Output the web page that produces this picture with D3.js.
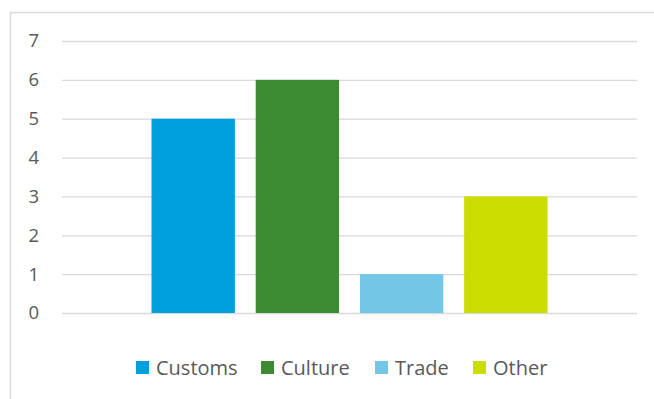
<html>
<head>
<script src="https://d3js.org/d3.v7.min.js"></script>
<style>
  body { margin: 0; background: #fff; }
  svg { font-family: "Open Sans", "Liberation Sans", sans-serif; }
</style>
</head>
<body>
<div id="chart"></div>
<script>
// series (one bar each) and their values
var series = ["Customs", "Culture", "Trade", "Other"];
var values = [5, 6, 1, 3];
var colors = ["#00A0DD", "#3C8A32", "#74C6E7", "#CBDD00"];
var yTicks = [0, 1, 2, 3, 4, 5, 6, 7];

var width = 654, height = 399;
var plot = {left: 62, right: 637, top: 41, bottom: 313};

var svg = d3.select("#chart").append("svg")
  .attr("width", width)
  .attr("height", height);

// chart border
svg.append("rect")
  .attr("x", 10.5).attr("y", 12.5)
  .attr("width", 660).attr("height", 400)
  .attr("fill", "none")
  .attr("stroke", "#D9D9D9")
  .attr("stroke-width", 1.5);

var y = d3.scaleLinear().domain([0, 7]).range([plot.bottom, plot.top]);

var x = d3.scaleBand()
  .domain(series)
  .range([plot.left + 89.5, plot.right - 89.5])
  .paddingInner(0.2)
  .paddingOuter(0);

var color = d3.scaleOrdinal(series, colors);

// gridlines + y labels
var yAxis = d3.axisLeft(y)
  .tickValues(yTicks)
  .tickFormat(d3.format("d"))
  .tickSize(-(plot.right - plot.left))
  .tickPadding(23);
var gy = svg.append("g")
  .attr("transform", "translate(" + plot.left + ",0)")
  .call(yAxis);
gy.select(".domain").remove();
gy.selectAll(".tick line").attr("stroke", "#D9D9D9").attr("stroke-width", 1.3);
gy.selectAll(".tick text")
  .attr("fill", "#595959")
  .style("font-size", "18.5px")
  .attr("font-family", "'Open Sans', 'Liberation Sans', sans-serif");

// bars
svg.append("g").selectAll("rect")
  .data(series)
  .enter().append("rect")
  .attr("x", d => x(d))
  .attr("width", x.bandwidth())
  .attr("y", (d, i) => y(values[i]))
  .attr("height", (d, i) => y(0) - y(values[i]))
  .attr("fill", d => color(d));

// legend
var legendX = [136, 261, 375, 473];
var legend = svg.append("g").selectAll("g")
  .data(series)
  .enter().append("g")
  .attr("transform", (d, i) => "translate(" + legendX[i] + ",361)");

legend.append("rect")
  .attr("width", 13).attr("height", 13)
  .attr("fill", d => color(d));

legend.append("text")
  .attr("x", 20)
  .attr("y", 14)
  .attr("fill", "#595959")
  .style("font-size", "20px")
  .text(d => d);
</script>
</body>
</html>
